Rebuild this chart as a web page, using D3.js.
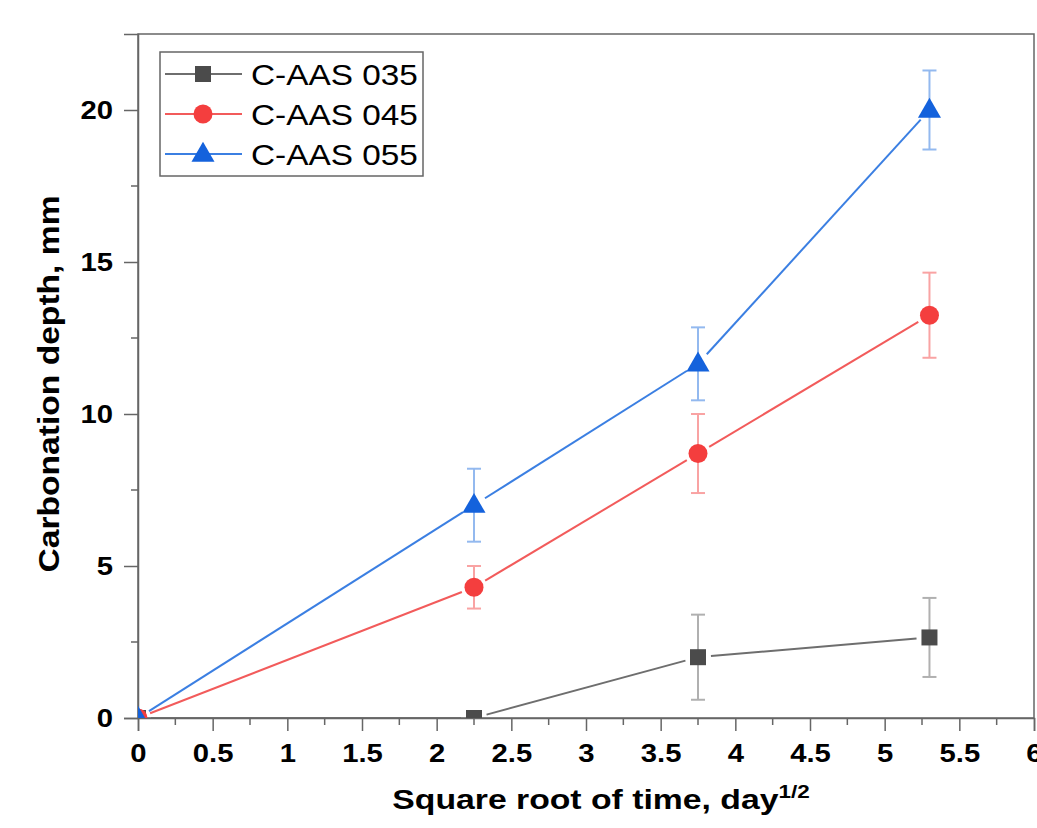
<!DOCTYPE html>
<html>
<head>
<meta charset="utf-8">
<script src="https://cdn.jsdelivr.net/npm/d3@7"></script>
<style>
  body { margin: 0; background: #fff; }
  text { font-family: "Liberation Sans", Arial, sans-serif; }
</style>
</head>
<body>
<svg id="chart" width="1037" height="828"></svg>
<script>
// data
const xVals = [0, 2.25, 3.75, 5.3]
const names = ["C-AAS 035", "C-AAS 045", "C-AAS 055"]
const y035 = [0, 0, 2.0, 2.65]
const e035 = [0, 0, 1.4, 1.3]
const y045 = [0, 4.3, 8.7, 13.25]
const e045 = [0, 0.7, 1.3, 1.4]
const y055 = [0, 7.0, 11.65, 20.0]
const e055 = [0, 1.2, 1.2, 1.3]
const xTicks = [0, 0.5, 1, 1.5, 2, 2.5, 3, 3.5, 4, 4.5, 5, 5.5, 6]
const yTicks = [0, 5, 10, 15, 20]

const series = [
  {name: names[0], y: y035, err: e035, shape: "square", fill: "#4b4b4b", line: "#6e6e6e", errColor: "#b0b0b0"},
  {name: names[1], y: y045, err: e045, shape: "circle", fill: "#f43e3e", line: "#f25b5b", errColor: "#f9a3a3"},
  {name: names[2], y: y055, err: e055, shape: "triangle", fill: "#1462dc", line: "#3b7fe2", errColor: "#93b9ef"}
]

const margin = {top: 34, right: 3, bottom: 110, left: 138}
const width = 1037, height = 828
const stretch = 1.17 // text in the figure is a bit wide

const svg = d3.select("#chart")

const x = d3.scaleLinear().domain([0, 6]).range([margin.left, width - margin.right])
const y = d3.scaleLinear().domain([0, 22.5]).range([height - margin.bottom, margin.top])

svg.append("defs").append("clipPath").attr("id", "plotclip")
  .append("rect")
  .attr("x", x(0)).attr("y", y(22.5))
  .attr("width", x(6) - x(0)).attr("height", y(0) - y(22.5))

// frame
svg.append("rect")
  .attr("x", x(0)).attr("y", y(22.5))
  .attr("width", x(6) - x(0)).attr("height", y(0) - y(22.5))
  .attr("fill", "none").attr("stroke", "#666").attr("stroke-width", 1.5)

// minor ticks
const xMinor = d3.range(0.25, 6, 0.5)
const yMinor = d3.range(2.5, 22.5, 5)

const xAxis = svg.append("g")
  .attr("transform", `translate(0,${y(0)})`)
  .call(d3.axisBottom(x).tickValues(xTicks).tickFormat(d3.format("")).tickSize(13).tickPadding(13))
xAxis.select(".domain").attr("stroke", "#666").attr("stroke-width", 1.5)
xAxis.selectAll(".tick line").attr("stroke", "#666").attr("stroke-width", 1.5)
xAxis.selectAll(".tick text").attr("fill", "#000").attr("font-size", 25).attr("font-weight", "bold")
  .attr("font-family", "Liberation Sans, Arial, sans-serif")
  .attr("transform", `scale(${stretch},1)`)
xAxis.selectAll(".minor").data(xMinor).join("line")
  .attr("x1", d => x(d)).attr("x2", d => x(d))
  .attr("y1", 0).attr("y2", 7)
  .attr("stroke", "#666").attr("stroke-width", 1.5)

const yAxis = svg.append("g")
  .attr("transform", `translate(${x(0)},0)`)
  .call(d3.axisLeft(y).tickValues(yTicks).tickSize(14).tickPadding(10))
yAxis.select(".domain").attr("stroke", "#666").attr("stroke-width", 1.5)
yAxis.selectAll(".tick line").attr("stroke", "#666").attr("stroke-width", 1.5)
yAxis.selectAll(".tick text").attr("fill", "#000").attr("font-size", 25).attr("font-weight", "bold")
  .attr("font-family", "Liberation Sans, Arial, sans-serif")
  .attr("x", -25 / stretch)
  .attr("transform", `scale(${stretch},1)`)
yAxis.selectAll(".minor").data(yMinor).join("line")
  .attr("x1", 0).attr("x2", -7)
  .attr("y1", d => y(d)).attr("y2", d => y(d))
  .attr("stroke", "#666").attr("stroke-width", 1.5)

// axis titles
const xt = svg.append("g").attr("transform", "translate(601,809) scale(1.25,1)")
  .append("text")
  .attr("text-anchor", "middle")
  .attr("font-size", 27).attr("font-weight", "bold")
xt.append("tspan").text("Square root of time, day")
xt.append("tspan").attr("dy", -11).attr("font-size", 18).text("1/2")

svg.append("text")
  .attr("transform", "translate(59,384) rotate(-90) scale(1.12,1)")
  .attr("text-anchor", "middle")
  .attr("font-size", 30).attr("font-weight", "bold")
  .text("Carbonation depth, mm")

const plot = svg.append("g").attr("clip-path", "url(#plotclip)")

function drawMarker(g, shape, fill, cx, cy) {
  if (shape === "square") {
    g.append("rect").attr("x", cx - 8).attr("y", cy - 8).attr("width", 16).attr("height", 16).attr("fill", fill)
  } else if (shape === "circle") {
    g.append("circle").attr("cx", cx).attr("cy", cy).attr("r", 9.5).attr("fill", fill)
  } else {
    g.append("path").attr("d", d3.symbol(d3.symbolTriangle, 230)()).attr("transform", `translate(${cx},${cy + 1})`).attr("fill", fill)
  }
}

const gap = 13
series.forEach(s => {
  const g = plot.append("g")
  const pts = xVals.map((v, i) => [x(v), y(s.y[i])])
  // line segments with a gap around each marker
  for (let i = 0; i < pts.length - 1; i++) {
    const [x1, y1] = pts[i], [x2, y2] = pts[i + 1]
    const len = Math.hypot(x2 - x1, y2 - y1)
    const ux = (x2 - x1) / len, uy = (y2 - y1) / len
    g.append("line")
      .attr("x1", x1 + ux * gap).attr("y1", y1 + uy * gap)
      .attr("x2", x2 - ux * gap).attr("y2", y2 - uy * gap)
      .attr("stroke", s.line).attr("stroke-width", 2)
  }
  // error bars
  xVals.forEach((v, i) => {
    if (!s.err[i]) return
    const cx = x(v), top = y(s.y[i] + s.err[i]), bot = y(s.y[i] - s.err[i])
    g.append("line").attr("x1", cx).attr("x2", cx).attr("y1", top).attr("y2", bot)
      .attr("stroke", s.errColor).attr("stroke-width", 2)
    ;[top, bot].forEach(yy => g.append("line").attr("x1", cx - 7).attr("x2", cx + 7).attr("y1", yy).attr("y2", yy)
      .attr("stroke", s.errColor).attr("stroke-width", 2))
  })
  xVals.forEach((v, i) => drawMarker(g, s.shape, s.fill, x(v), y(s.y[i])))
})

// legend
const lg = svg.append("g")
lg.append("rect").attr("x", 160).attr("y", 52).attr("width", 263).attr("height", 124)
  .attr("fill", "#fff").attr("stroke", "#666").attr("stroke-width", 1.5)
series.forEach((s, i) => {
  const cy = 74 + i * 40
  lg.append("line").attr("x1", 165).attr("x2", 242).attr("y1", cy).attr("y2", cy)
    .attr("stroke", s.line).attr("stroke-width", 2)
  drawMarker(lg, s.shape, s.fill, 203, cy)
  lg.append("g").attr("transform", `translate(251,${cy + 11}) scale(1.15,1)`)
    .append("text")
    .attr("font-size", 29).attr("fill", "#000").text(s.name)
})
</script>
</body>
</html>
